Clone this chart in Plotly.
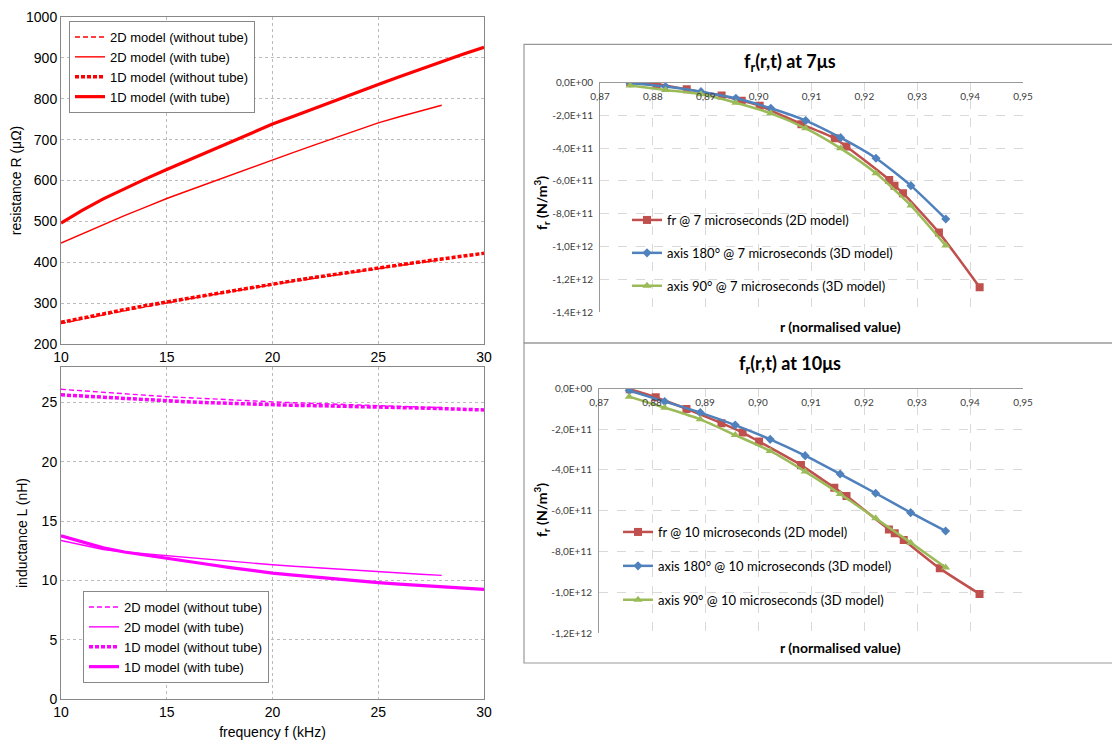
import plotly.graph_objects as go

# page body has an 8px default margin: figure is drawn at (8, 8) in the window
OFF = 8
W, H = 1120 - OFF, 745 - OFF

# ---------------- Left charts data (frequency in kHz) ----------------
f_1d = [10, 11, 12, 13, 14, 15, 16, 17, 18, 19, 20, 21, 22, 23, 24, 25, 26, 27, 28, 29, 30]
f_2d = [10, 11, 12, 13, 14, 15, 16, 17, 18, 19, 20, 21, 22, 23, 24, 25, 26, 27, 28]

R_2d_notube = [250, 261, 271, 281, 291, 301, 310, 319, 328, 337, 345, 353, 361, 369, 377, 385, 392, 399, 406]
R_2d_tube = [447, 470, 492, 514, 535, 556, 575, 594, 613, 632, 650, 669, 687, 705, 723, 741, 756, 770, 784]
R_1d_notube = [253, 264, 274, 284, 294, 303, 312, 321, 330, 339, 347, 355, 363, 371, 379, 387, 394, 401, 408, 415, 422]
R_1d_tube = [496, 527, 555, 580, 604, 627, 649, 671, 694, 716, 738, 757, 777, 797, 816, 835, 854, 873, 891, 909, 926]

L_2d_notube = [26.12, 25.98, 25.86, 25.74, 25.62, 25.50, 25.40, 25.31, 25.22, 25.14, 25.06, 24.99, 24.92, 24.85, 24.78, 24.72, 24.67, 24.62, 24.58]
L_2d_tube = [13.37, 12.96, 12.61, 12.40, 12.24, 12.10, 11.92, 11.76, 11.60, 11.46, 11.32, 11.19, 11.07, 10.95, 10.83, 10.71, 10.61, 10.52, 10.43]
L_1d_notube = [25.65, 25.54, 25.44, 25.34, 25.24, 25.14, 25.06, 24.99, 24.92, 24.86, 24.80, 24.77, 24.74, 24.71, 24.68, 24.66, 24.60, 24.54, 24.49, 24.43, 24.38]
L_1d_tube = [13.76, 13.22, 12.75, 12.40, 12.12, 11.88, 11.60, 11.34, 11.08, 10.84, 10.62, 10.44, 10.28, 10.10, 9.95, 9.81, 9.69, 9.58, 9.47, 9.36, 9.25]

left_names = ["2D model (without tube)", "2D model (with tube)", "1D model (without tube)", "1D model (with tube)"]
freq_ticks = [10, 15, 20, 25, 30]
R_ticks = [200, 300, 400, 500, 600, 700, 800, 900, 1000]
L_ticks = [0, 5, 10, 15, 20, 25]

# ---------------- Right charts data ----------------
r_fr7 = [0.8757, 0.8807, 0.8864, 0.8930, 0.8968, 0.9002, 0.9081, 0.9144, 0.9166, 0.9247, 0.9257, 0.9273, 0.9341, 0.9418]
v_fr7 = [0.0e11, -0.10e11, -0.43e11, -0.81e11, -1.12e11, -1.42e11, -2.55e11, -3.41e11, -3.91e11, -5.94e11, -6.29e11, -6.75e11, -9.15e11, -12.47e11]
r_3d = [0.8757, 0.8824, 0.8891, 0.8957, 0.9023, 0.9089, 0.9155, 0.9222, 0.9288, 0.9354]
v_180_7 = [-0.06e11, -0.26e11, -0.57e11, -0.97e11, -1.58e11, -2.33e11, -3.37e11, -4.62e11, -6.29e11, -8.32e11]
v_90_7 = [-0.20e11, -0.47e11, -0.73e11, -1.24e11, -1.89e11, -2.80e11, -4.02e11, -5.54e11, -7.50e11, -9.94e11]

r_fr10 = [0.8758, 0.8807, 0.8865, 0.8931, 0.8971, 0.9002, 0.9081, 0.9144, 0.9167, 0.9247, 0.9258, 0.9275, 0.9343, 0.9418]
v_fr10 = [-0.05e11, -0.44e11, -1.01e11, -1.71e11, -2.17e11, -2.61e11, -3.76e11, -4.87e11, -5.27e11, -6.91e11, -7.10e11, -7.43e11, -8.82e11, -10.07e11]
v_180_10 = [-0.11e11, -0.65e11, -1.19e11, -1.80e11, -2.50e11, -3.30e11, -4.20e11, -5.14e11, -6.09e11, -6.99e11]
v_90_10 = [-0.41e11, -0.95e11, -1.52e11, -2.29e11, -3.07e11, -4.08e11, -5.18e11, -6.37e11, -7.56e11, -8.78e11]

r_ticks = [0.87, 0.88, 0.89, 0.90, 0.91, 0.92, 0.93, 0.94, 0.95]
r_ticktext = ["0,87", "0,88", "0,89", "0,90", "0,91", "0,92", "0,93", "0,94", "0,95"]
fr7_ticks = [0, -2e11, -4e11, -6e11, -8e11, -1e12, -1.2e12, -1.4e12]
fr7_text = ["0,0E+00", "-2,0E+11", "-4,0E+11", "-6,0E+11", "-8,0E+11", "-1,0E+12", "-1,2E+12", "-1,4E+12"]
fr10_ticks = [0, -2e11, -4e11, -6e11, -8e11, -1e12, -1.2e12]
fr10_text = ["0,0E+00", "-2,0E+11", "-4,0E+11", "-6,0E+11", "-8,0E+11", "-1,0E+12", "-1,2E+12"]

names7 = ["fr @ 7 microseconds (2D model)", "axis 180° @ 7 microseconds (3D model)", "axis 90° @ 7 microseconds (3D model)"]
names10 = ["fr @ 10 microseconds (2D model)", "axis 180° @ 10 microseconds (3D model)", "axis 90° @ 10 microseconds (3D model)"]

RED, MAG = "#ff0000", "#ff00ff"
C_FR, C_180, C_90 = "#c0504d", "#4f81bd", "#9bbb59"

fig = go.Figure()


def px(x):
    return (x - OFF) / W


def py(y):
    return 1 - (y - OFF) / H


# ---- left charts
styles = [
    dict(width=1.4, dash="5px,3px"),
    dict(width=1.4, dash="solid"),
    dict(width=3.5, dash="4px,2px"),
    dict(width=3.2, dash="solid"),
]
R_series = [(f_2d, R_2d_notube), (f_2d, R_2d_tube), (f_1d, R_1d_notube), (f_1d, R_1d_tube)]
for (xs, ys), nm, st in zip(R_series, left_names, styles):
    fig.add_trace(go.Scatter(x=xs, y=ys, mode="lines", name=nm, line=dict(color=RED, **st),
                             xaxis="x", yaxis="y", legend="legend"))

L_series = [(f_2d, L_2d_notube), (f_2d, L_2d_tube), (f_1d, L_1d_notube), (f_1d, L_1d_tube)]
for (xs, ys), nm, st in zip(L_series, left_names, styles):
    fig.add_trace(go.Scatter(x=xs, y=ys, mode="lines", name=nm, line=dict(color=MAG, **st),
                             xaxis="x2", yaxis="y2", legend="legend2"))


# ---- right charts
def add_right(xa, ya, leg, names, data):
    syms = ["square", "diamond", "triangle-up"]
    cols = [C_FR, C_180, C_90]
    sizes = [8, 7, 8]
    for i, ((xs, ys), nm) in enumerate(zip(data, names)):
        fig.add_trace(go.Scatter(x=xs, y=ys, mode="lines+markers", name=nm,
                                 line=dict(color=cols[i], width=2.5, shape="spline", smoothing=0.6),
                                 marker=dict(symbol=syms[i], size=sizes[i], color=cols[i]),
                                 xaxis=xa, yaxis=ya, legend=leg, legendgroup=leg + str(i)))


add_right("x3", "y3", "legend3", names7, [(r_fr7, v_fr7), (r_3d, v_180_7), (r_3d, v_90_7)])
add_right("x4", "y4", "legend4", names10, [(r_fr10, v_fr10), (r_3d, v_180_10), (r_3d, v_90_10)])

LFONT = dict(family="Liberation Sans, Arial, sans-serif", size=14, color="#000")
RFONT = dict(family="Lato, Open Sans, sans-serif", size=10, color="#404040")

left_x_dom = [px(61), px(484)]
common_left = dict(showline=True, linecolor="#888", linewidth=1, mirror=True, showgrid=True,
                   gridcolor="#bbbbbb", griddash="dot", gridwidth=1, zeroline=False, ticks="",
                   tickfont=LFONT, automargin=False, ticklabeloverflow="allow")

right_x = dict(range=[0.87, 0.95], tickvals=r_ticks, ticktext=r_ticktext, side="bottom",
               anchor="free", showline=True, linecolor="#999", showgrid=True, gridcolor="#d9d9d9",
               griddash="dash", zeroline=False, ticks="", tickfont=RFONT, automargin=False,
               ticklabelstandoff=5, ticklabeloverflow="allow")
right_y = dict(showline=True, linecolor="#999", showgrid=True, gridcolor="#d9d9d9", griddash="dash",
               zeroline=False, ticks="", tickfont=RFONT, automargin=False, ticklabelstandoff=4,
               ticklabeloverflow="allow")

fig.update_layout(
    width=W, height=H, margin=dict(l=0, r=0, t=0, b=0),
    paper_bgcolor="white", plot_bgcolor="white",
    font=LFONT,
    xaxis=dict(domain=left_x_dom, anchor="y", range=[10, 30], tickvals=freq_ticks, **common_left),
    yaxis=dict(domain=[py(344), py(17)], anchor="x", range=[200, 1000], tickvals=R_ticks,
               title=dict(text="resistance R (μΩ)", font=LFONT, standoff=6), **common_left),
    xaxis2=dict(domain=left_x_dom, anchor="y2", range=[10, 30], tickvals=freq_ticks,
                title=dict(text="frequency f (kHz)", font=LFONT, standoff=8), **common_left),
    yaxis2=dict(domain=[py(699), py(367)], anchor="x2", range=[0, 28], tickvals=L_ticks,
                title=dict(text="inductance L (nH)", font=LFONT, standoff=10), **common_left),
    xaxis3=dict(domain=[px(600), px(1023)], position=py(82.3), **right_x),
    yaxis3=dict(domain=[py(312.3), py(82.3)], anchor="x3", range=[-1.4e12, 0],
                tickvals=fr7_ticks, ticktext=fr7_text, **right_y),
    xaxis4=dict(domain=[px(599), px(1023)], position=py(388.3), **right_x),
    yaxis4=dict(domain=[py(633.3), py(388.3)], anchor="x4", range=[-1.2e12, 0],
                tickvals=fr10_ticks, ticktext=fr10_text, **right_y),
    legend=dict(x=px(69), y=py(21), xanchor="left", yanchor="top", bordercolor="#888", borderwidth=1,
                bgcolor="white", font=dict(family=LFONT["family"], size=13, color="#000"),
                tracegroupgap=0),
    legend2=dict(x=px(83), y=py(683), xanchor="left", yanchor="bottom", bordercolor="#888", borderwidth=1,
                 bgcolor="white", font=dict(family=LFONT["family"], size=13, color="#000"),
                 tracegroupgap=0),
    legend3=dict(x=px(627), y=py(205), xanchor="left", yanchor="top", bgcolor="rgba(0,0,0,0)",
                 font=dict(family="Lato, Open Sans, sans-serif", size=13, color="#000"),
                 tracegroupgap=13),
    legend4=dict(x=px(618), y=py(517), xanchor="left", yanchor="top", bgcolor="rgba(0,0,0,0)",
                 font=dict(family="Lato, Open Sans, sans-serif", size=13, color="#000"),
                 tracegroupgap=14),
    showlegend=True,
)

# boxes around right charts
fig.add_shape(type="rect", xref="paper", yref="paper", x0=px(524), x1=1.01, y0=py(343), y1=py(44.3),
              line=dict(color="#999", width=1.2), fillcolor="rgba(0,0,0,0)", layer="below")
fig.add_shape(type="rect", xref="paper", yref="paper", x0=px(524), x1=1.01, y0=py(663), y1=py(343),
              line=dict(color="#999", width=1.2), fillcolor="rgba(0,0,0,0)", layer="below")

TFONT = dict(family="Lato, Open Sans, sans-serif", size=18, color="#000")
AFONT = dict(family="Lato, Open Sans, sans-serif", size=14, color="#000")
for ytit, txt in [(63, "<b>f<sub>r</sub>(r,t) at 7μs</b>"), (364, "<b>f<sub>r</sub>(r,t) at 10μs</b>")]:
    fig.add_annotation(xref="paper", yref="paper", x=px(790), y=py(ytit), text=txt, showarrow=False,
                       font=TFONT, xanchor="center", yanchor="middle")
for ytit, yax in [(327, 203), (647, 510)]:
    fig.add_annotation(xref="paper", yref="paper", x=px(840), y=py(ytit), text="<b>r (normalised value)</b>",
                       showarrow=False, font=AFONT, xanchor="center", yanchor="middle")
    fig.add_annotation(xref="paper", yref="paper", x=px(541), y=py(yax), text="<b>f<sub>r</sub> (N/m<sup>3</sup>)</b>",
                       showarrow=False, font=AFONT, textangle=-90, xanchor="center", yanchor="middle")

fig.write_html("out.html")
